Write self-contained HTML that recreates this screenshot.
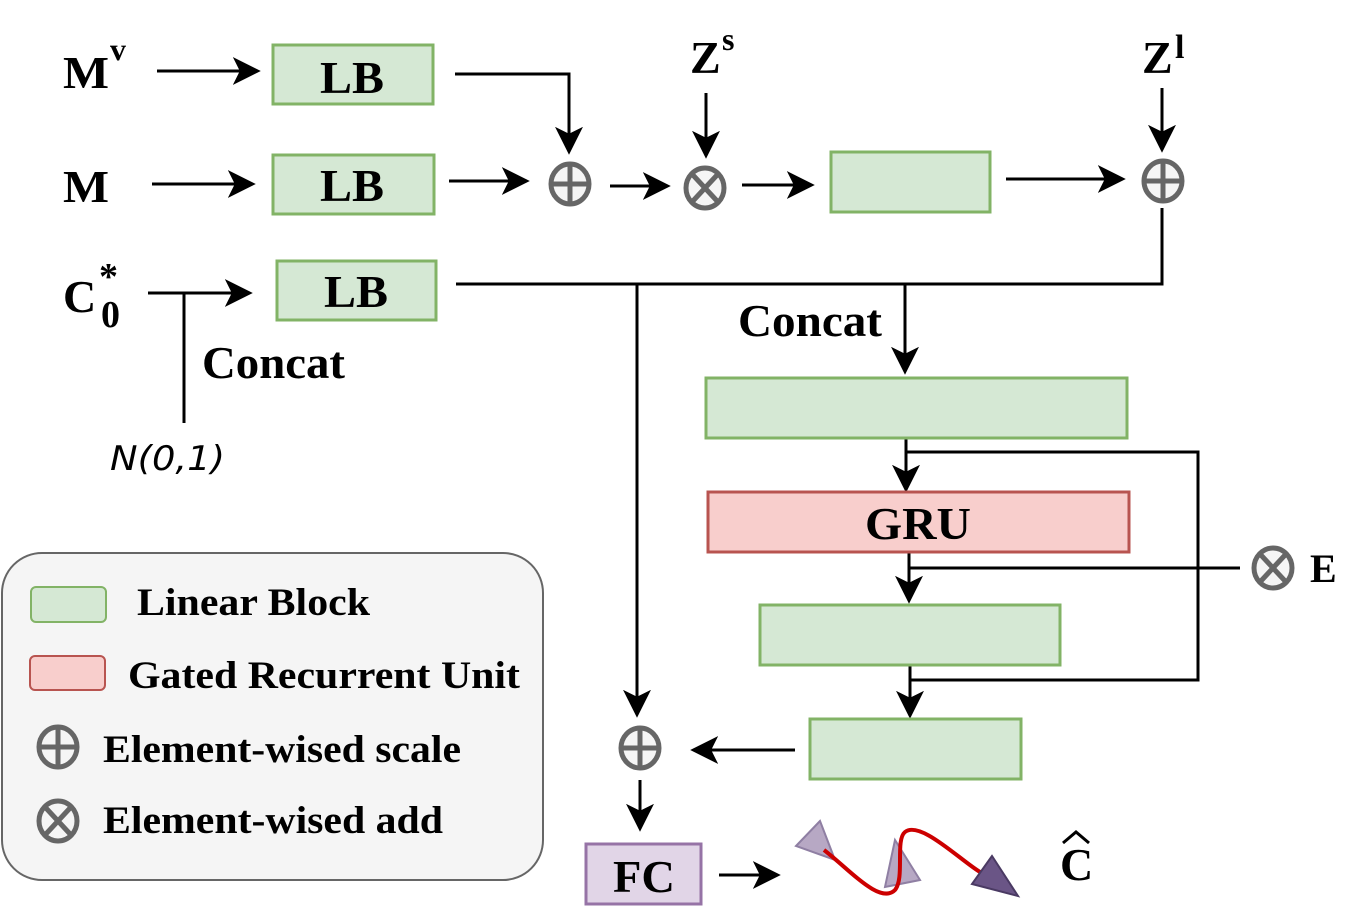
<!DOCTYPE html>
<html><head><style>
html,body{margin:0;padding:0;background:#fff;}
svg text{font-family:"Liberation Serif",serif;font-weight:bold;fill:#000;}
</style></head><body>
<svg width="1368" height="915" viewBox="0 0 1368 915" xmlns="http://www.w3.org/2000/svg">
<defs>
<marker id="b" viewBox="0 0 10 10" refX="9" refY="5" markerWidth="28" markerHeight="28" markerUnits="userSpaceOnUse" orient="auto">
<path d="M0,0 L10,5 L0,10 L2.5,5 Z" fill="#000"/></marker>
<g id="plus"><ellipse cx="0" cy="0" rx="19" ry="20" fill="#f5f5f5" stroke="#666" stroke-width="5"/><path d="M-19,0H19M0,-20V20" stroke="#666" stroke-width="5"/></g>
<g id="times"><ellipse cx="0" cy="0" rx="19" ry="20" fill="#f5f5f5" stroke="#666" stroke-width="5"/><path d="M-13,-14L13,14M13,-14L-13,14" stroke="#666" stroke-width="5"/></g>
</defs>
<g stroke="#000" stroke-width="3" fill="none">
<path d="M157,71H258" marker-end="url(#b)"/>
<path d="M152,184H253" marker-end="url(#b)"/>
<path d="M148,293H250" marker-end="url(#b)"/>
<path d="M184,293V423" />
<path d="M455,74H569V152" marker-end="url(#b)"/>
<path d="M449,181H527" marker-end="url(#b)"/>
<path d="M610,186H668" marker-end="url(#b)"/>
<path d="M706,93V156" marker-end="url(#b)"/>
<path d="M742,185H812" marker-end="url(#b)"/>
<path d="M1006,179H1123" marker-end="url(#b)"/>
<path d="M1162,88V150" marker-end="url(#b)"/>
<path d="M1162,208V284H456"/>
<path d="M905,284V372" marker-end="url(#b)"/>
<path d="M637,284V715" marker-end="url(#b)"/>
<path d="M906,438V490" marker-end="url(#b)"/>
<path d="M906,452H1198V680H910"/>
<path d="M909,552V601" marker-end="url(#b)"/>
<path d="M909,568H1240"/>
<path d="M910,665V716" marker-end="url(#b)"/>
<path d="M795,750H693" marker-end="url(#b)"/>
<path d="M640,780V829" marker-end="url(#b)"/>
<path d="M719,875H778" marker-end="url(#b)"/>
</g>
<g fill="#d5e8d4" stroke="#82b366" stroke-width="3">
<rect x="273" y="45" width="160" height="59"/>
<rect x="273" y="155" width="161" height="59"/>
<rect x="277" y="261" width="159" height="59"/>
<rect x="831" y="152" width="159" height="60"/>
<rect x="706" y="378" width="421" height="60"/>
<rect x="760" y="605" width="300" height="60"/>
<rect x="810" y="719" width="211" height="60"/>
</g>
<rect x="708" y="492" width="421" height="60" fill="#f8cecc" stroke="#b85450" stroke-width="3"/>
<rect x="586" y="844" width="115" height="60" fill="#e1d5e7" stroke="#9673a6" stroke-width="3"/>
<use href="#plus" x="570" y="184"/>
<use href="#times" x="705" y="188"/>
<use href="#plus" x="1163" y="181"/>
<use href="#plus" x="640" y="748"/>
<use href="#times" x="1273" y="568"/>
<g font-size="46">
<text x="63" y="88" textLength="46" lengthAdjust="spacingAndGlyphs">M</text><text x="110" y="60" font-size="32">v</text>
<text x="63" y="202" textLength="46" lengthAdjust="spacingAndGlyphs">M</text>
<text x="63" y="312">C</text><text x="99" y="289" font-size="38">*</text><text x="101" y="327" font-size="38">0</text>
<text x="352" y="93" text-anchor="middle" textLength="64" lengthAdjust="spacingAndGlyphs">LB</text>
<text x="352" y="201" text-anchor="middle" textLength="64" lengthAdjust="spacingAndGlyphs">LB</text>
<text x="356" y="307" text-anchor="middle" textLength="64" lengthAdjust="spacingAndGlyphs">LB</text>
<text x="202" y="378" textLength="143" lengthAdjust="spacingAndGlyphs">Concat</text>
<text x="738" y="336" textLength="144" lengthAdjust="spacingAndGlyphs">Concat</text>
<text x="690" y="73">Z</text><text x="722" y="50" font-size="32">s</text>
<text x="1142" y="73">Z</text><text x="1175" y="58" font-size="34">l</text>
<text x="918" y="539" text-anchor="middle" textLength="106" lengthAdjust="spacingAndGlyphs">GRU</text>
<text x="1310" y="582" font-size="40">E</text>
<text x="644" y="892" text-anchor="middle" textLength="62" lengthAdjust="spacingAndGlyphs">FC</text>
<text x="1060" y="880">C</text>
</g>
<path d="M1063,843L1076,832L1089,843" stroke="#000" stroke-width="3" fill="none"/>
<text x="110" y="470" style="font-family:'DejaVu Sans',sans-serif;font-style:italic;font-weight:normal" font-size="34" textLength="115" lengthAdjust="spacingAndGlyphs">N(0,1)</text>
<polygon points="820,821 796,846 835,860" fill="#b7a8c4" stroke="#8f7fa3" stroke-width="2"/>
<polygon points="895,840 885,887 920,880" fill="#b7a8c4" stroke="#8f7fa3" stroke-width="2"/>
<path d="M824,850 C850,870 880,905 895,890 C905,878 895,840 905,832 C920,820 960,860 980,872" stroke="#cc0000" stroke-width="4" fill="none"/>
<polygon points="992,856 972,884 1018,896" fill="#6a5586" stroke="#4a3a63" stroke-width="2"/>
<rect x="2" y="553" width="541" height="327" rx="40" fill="#f5f5f5" stroke="#666" stroke-width="2"/>
<rect x="31" y="587" width="75" height="35" rx="5" fill="#d5e8d4" stroke="#82b366" stroke-width="2"/>
<rect x="30" y="656" width="75" height="34" rx="5" fill="#f8cecc" stroke="#b85450" stroke-width="2"/>
<use href="#plus" x="58" y="747"/>
<use href="#times" x="58" y="821"/>
<g font-size="39">
<text x="137" y="615" textLength="233" lengthAdjust="spacingAndGlyphs">Linear Block</text>
<text x="128" y="688" textLength="392" lengthAdjust="spacingAndGlyphs">Gated Recurrent Unit</text>
<text x="103" y="762" textLength="358" lengthAdjust="spacingAndGlyphs">Element-wised scale</text>
<text x="103" y="833" textLength="340" lengthAdjust="spacingAndGlyphs">Element-wised add</text>
</g>
</svg>
</body></html>
